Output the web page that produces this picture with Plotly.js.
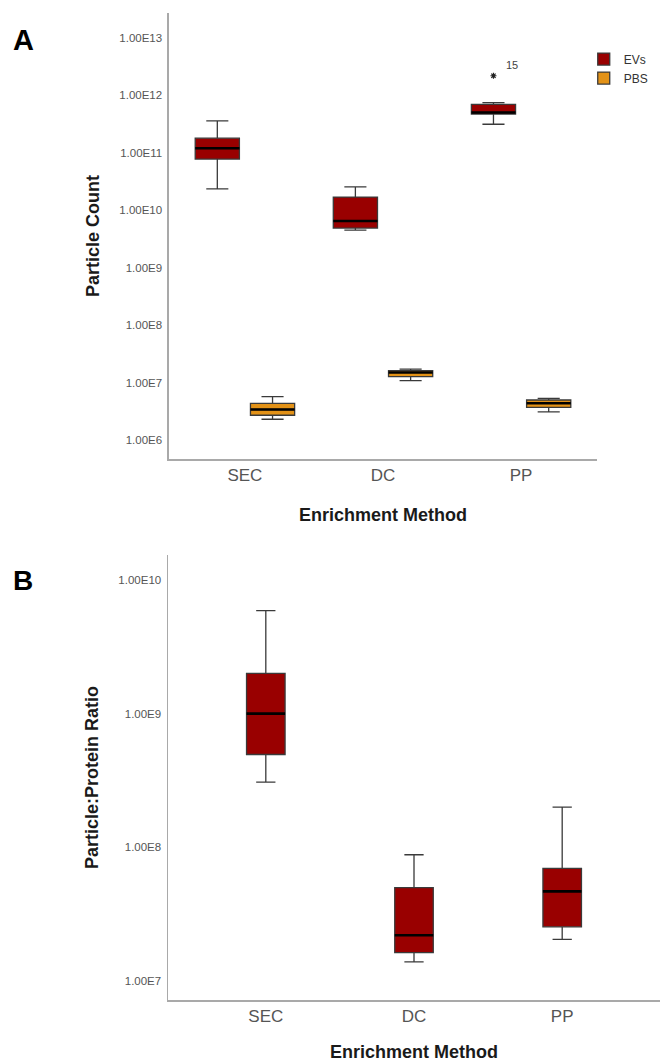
<!DOCTYPE html>
<html>
<head>
<meta charset="utf-8">
<script src="https://cdn.plot.ly/plotly-3.0.1.min.js"></script>
<style>
  html, body { margin: 0; padding: 0; background: #ffffff; }
  #chart { width: 660px; height: 1062px; }
</style>
</head>
<body>
<div id="chart"></div>
<script>
// Enrichment methods on the category axis
const methods = ['SEC', 'DC', 'PP'];

// Panel A: particle count, EV samples (box summaries)
const evLowA  = [2.35e10, 4.5e9,  3.15e11];
const evQ1A   = [7.8e10,  4.9e9,  4.75e11];
const evMedA  = [1.2e11,  6.5e9,  5.05e11];
const evQ3A   = [1.8e11,  1.7e10, 7.0e11];
const evHighA = [3.6e11,  2.55e10, 7.5e11];
// extreme values flagged per method, with their case numbers
const evOutA  = [[], [], [2.2e12]];
const evOutCaseA = [[], [], ['15']];

// Panel A: particle count, PBS controls
const pbsLowA  = [2.3e6,  1.08e7, 3.1e6];
const pbsQ1A   = [2.7e6,  1.27e7, 3.7e6];
const pbsMedA  = [3.4e6,  1.5e7,  4.36e6];
const pbsQ3A   = [4.35e6, 1.61e7, 4.97e6];
const pbsHighA = [5.7e6,  1.72e7, 5.3e6];

// Panel B: particle:protein ratio, EV samples
const evLowB  = [3.07e8, 1.39e7, 2.05e7];
const evQ1B   = [4.95e8, 1.63e7, 2.54e7];
const evMedB  = [1.0e9,  2.2e7,  4.68e7];
const evQ3B   = [2.0e9,  5.0e7,  6.95e7];
const evHighB = [5.9e9,  8.8e7,  2.0e8];

// Tick labels in SPSS scientific style
const tickValsA = [1e6, 1e7, 1e8, 1e9, 1e10, 1e11, 1e12, 1e13];
const tickTextA = ['1.00E6', '1.00E7', '1.00E8', '1.00E9', '1.00E10', '1.00E11', '1.00E12', '1.00E13'];
const tickValsB = [1e7, 1e8, 1e9, 1e10];
const tickTextB = ['1.00E7', '1.00E8', '1.00E9', '1.00E10'];

const EV_RED = '#990000';
const PBS_ORANGE = '#e39217';
const EDGE = '#3a3a3a';
const FONT = 'Liberation Sans, Arial, sans-serif';

function summaryBox(name, low, q1, med, q3, high, fill, axes, group, extra) {
  return Object.assign({
    type: 'box', name: name, x: methods,
    lowerfence: low, q1: q1, median: med, q3: q3, upperfence: high,
    fillcolor: fill, line: { color: EDGE, width: 1.3 },
    whiskerwidth: 0.5, boxpoints: false,
    xaxis: axes[0], yaxis: axes[1],
    offsetgroup: group, alignmentgroup: axes[1],
    hoverinfo: 'skip'
  }, extra || {});
}

// thick median bars drawn over each box
function medianBar(med, axes, group, extra) {
  return Object.assign({
    type: 'box', x: methods, showlegend: false,
    lowerfence: med, q1: med, median: med, q3: med, upperfence: med,
    fillcolor: 'rgba(0,0,0,0)', line: { color: '#000000', width: 2.6 },
    whiskerwidth: 0, boxpoints: false,
    xaxis: axes[0], yaxis: axes[1],
    offsetgroup: group, alignmentgroup: axes[1],
    hoverinfo: 'skip'
  }, extra || {});
}

// flagged values, placed in the same slot as their box
const outX = [], outY = [];
evOutA.forEach((vals, i) => vals.forEach(v => { outX.push(methods[i]); outY.push(v); }));
const outlierMarks = {
  type: 'box', x: outX, y: outY, showlegend: false,
  boxpoints: 'all', jitter: 0, pointpos: 0,
  fillcolor: 'rgba(0,0,0,0)', line: { color: 'rgba(0,0,0,0)', width: 0 },
  marker: { symbol: 'asterisk', size: 5, color: '#222', line: { color: '#222', width: 1.2 } },
  xaxis: 'x', yaxis: 'y', offsetgroup: 'ev', alignmentgroup: 'y',
  hoverinfo: 'skip'
};

const widthB = { width: 0.26 };

const traces = [
  summaryBox('EVs', evLowA, evQ1A, evMedA, evQ3A, evHighA, EV_RED, ['x', 'y'], 'ev'),
  summaryBox('PBS', pbsLowA, pbsQ1A, pbsMedA, pbsQ3A, pbsHighA, PBS_ORANGE, ['x', 'y'], 'pbs'),
  medianBar(evMedA, ['x', 'y'], 'ev'),
  medianBar(pbsMedA, ['x', 'y'], 'pbs'),
  outlierMarks,
  summaryBox('EVs', evLowB, evQ1B, evMedB, evQ3B, evHighB, EV_RED, ['x2', 'y2'], 'evb',
    Object.assign({ showlegend: false }, widthB)),
  medianBar(evMedB, ['x2', 'y2'], 'evb', widthB)
];

// case-number labels next to flagged values
const caseLabels = [];
evOutA.forEach((vals, i) => vals.forEach((v, j) => {
  caseLabels.push({
    text: evOutCaseA[i][j], xref: 'x', yref: 'y', x: i, y: Math.log10(v),
    xshift: -9, yshift: 11, showarrow: false,
    font: { size: 11, color: '#444444', family: FONT }
  });
}));

const axisLine = { showline: true, linecolor: '#a9a9a9', linewidth: 1.5, mirror: false,
  showgrid: false, zeroline: false, ticks: '' };

const titleFont = { size: 18, color: '#1a1a1a', family: FONT };
const xTitle = { text: '<b>Enrichment Method</b>', font: titleFont, standoff: 24 };

const layout = {
  width: 660, height: 1062,
  margin: { l: 168, r: 0, t: 13, b: 62 },
  paper_bgcolor: '#ffffff', plot_bgcolor: '#ffffff',
  font: { family: FONT, color: '#555555' },
  boxmode: 'group', boxgap: 0.2, boxgroupgap: 0.2,
  showlegend: true,
  legend: {
    x: 0.845, y: 0.968, xanchor: 'left', yanchor: 'top',
    font: { size: 12, color: '#333333', family: FONT },
    bgcolor: 'rgba(0,0,0,0)', itemwidth: 30, tracegroupgap: 0
  },
  xaxis: Object.assign({}, axisLine, {
    domain: [0.002, 0.872], anchor: 'y', type: 'category',
    range: [-0.55, 2.55], tickfont: { size: 17, color: '#555555' },
    title: xTitle
  }),
  yaxis: Object.assign({}, axisLine, {
    domain: [0.5481, 1], anchor: 'x', type: 'log',
    range: [5.669, 13.435], tickvals: tickValsA, ticktext: tickTextA,
    tickfont: { size: 11.5, color: '#555555' }, ticklabelstandoff: 3,
    title: { text: '<b>Particle Count</b>', font: titleFont, standoff: 15 }
  }),
  xaxis2: Object.assign({}, axisLine, {
    domain: [0, 1], anchor: 'y2', type: 'category',
    range: [-0.66, 2.66], tickfont: { size: 17, color: '#555555' },
    title: xTitle
  }),
  yaxis2: Object.assign({}, axisLine, {
    domain: [0, 0.4509], anchor: 'x2', type: 'log',
    range: [6.8575, 10.1875], tickvals: tickValsB, ticktext: tickTextB,
    tickfont: { size: 11.5, color: '#555555' }, ticklabelstandoff: 3,
    title: { text: '<b>Particle:Protein Ratio</b>', font: titleFont, standoff: 15 }
  }),
  annotations: [
    { text: '<b>A</b>', xref: 'paper', yref: 'paper', x: -0.293, y: 0.9726,
      xanchor: 'center', yanchor: 'middle',
      showarrow: false, font: { size: 29, color: '#000000', family: FONT } },
    { text: '<b>B</b>', xref: 'paper', yref: 'paper', x: -0.295, y: 0.4255,
      xanchor: 'center', yanchor: 'middle',
      showarrow: false, font: { size: 28, color: '#000000', family: FONT } }
  ].concat(caseLabels)
};

Plotly.newPlot('chart', traces, layout, { staticPlot: true, displayModeBar: false });
</script>
</body>
</html>
